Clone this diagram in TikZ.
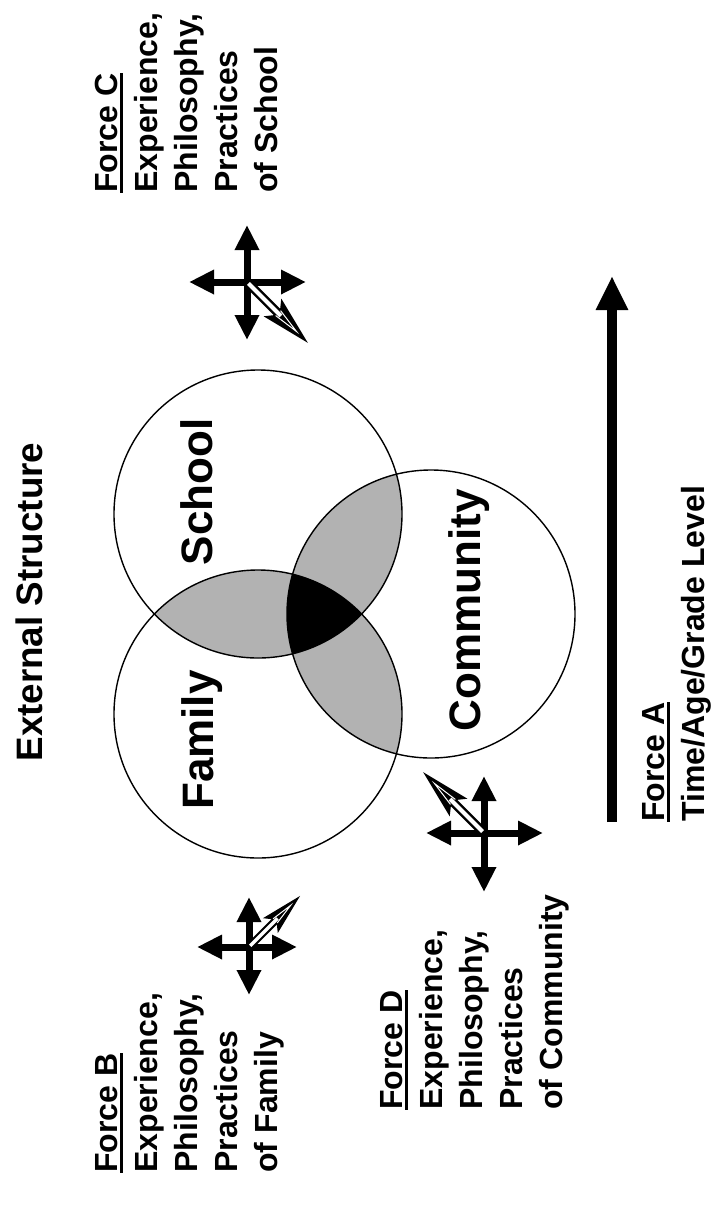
\documentclass[tikz,border=0pt]{standalone}
\usepackage{fontspec}
\setmainfont{Liberation Sans}
\usetikzlibrary{arrows.meta}
\newcommand\myul[1]{\setbox0\hbox{#1}\rlap{\rule[-2.75pt]{\wd0}{1.5pt}}\box0}
\tikzset{
  blocktxt/.style={font=\bfseries\fontsize{16}{20}\selectfont, rotate=90, align=left, inner sep=0pt, anchor=north west},
  circlbl/.style={font=\bfseries\fontsize{22}{26}\selectfont, rotate=90, inner sep=0pt, anchor=base},
  ring/.style={draw=black, line width=0.7pt},
  lens/.style={fill=black!30},
  arm/.style={line width=3.5pt, -{Triangle[length=12.5pt,width=11.5pt]}},
  timearrow/.style={line width=5pt, -{Triangle[length=17pt,width=15pt]}},
  hollow/.pic={
    \fill[black] (0,-4.5) -- (46,-4.5) -- (46,4.5) -- (0,4.5) -- cycle;
    \fill[black] (86,0) -- (36,-12.5) -- (46,0) -- (36,12.5) -- cycle;
    \fill[white] (2,-2) -- (48,-2) -- (48,2) -- (2,2) -- cycle;
    \draw[white, line width=0.5pt] (44,-3.5) -- (70,0) -- (44,3.5);
  }
}
\begin{document}
\begin{tikzpicture}[x=0.5pt,y=-0.5pt]
\useasboundingbox (0,0) rectangle (715,1206);
% circle centres
\coordinate (S) at (258,514);
\coordinate (F) at (258,714);
\coordinate (C) at (431,614);
% shading
\begin{scope}
  \clip (S) circle[radius=72pt];
  \fill[lens] (F) circle[radius=72pt];
  \fill[lens] (C) circle[radius=72pt];
\end{scope}
\begin{scope}
  \clip (F) circle[radius=72pt];
  \fill[lens] (C) circle[radius=72pt];
\end{scope}
\begin{scope}
  \clip (S) circle[radius=72pt];
  \clip (F) circle[radius=72pt];
  \fill[black] (C) circle[radius=72pt];
\end{scope}
\draw[ring] (S) circle[radius=72pt];
\draw[ring] (F) circle[radius=72pt];
\draw[ring] (C) circle[radius=72pt];
% labels
\node[font=\bfseries\fontsize{18.4}{22}\selectfont, rotate=90, inner sep=0pt, anchor=base] (title) at (42,602) {External Structure};
\node[circlbl] (school) at (212,492) {School};
\node[circlbl] (family) at (213,740) {Family};
\node[circlbl] (community) at (480,610) {Community};
% text blocks
\node[blocktxt] (fC) at (95,193) {\myul{Force C}\\Experience,\\Philosophy,\\Practices\\of School};
\node[blocktxt] (fB) at (95,1173) {\myul{Force B}\\Experience,\\Philosophy,\\Practices\\of Family};
\node[blocktxt] (fD) at (380,1110) {\myul{Force D}\\Experience,\\Philosophy,\\Practices\\of Community};
\node[blocktxt] (fA) at (642,822) {\myul{Force A}\\Time/Age/Grade Level};
% Force A arrow
\coordinate (aS) at (612,822);
\coordinate (aT) at (612,276);
\draw[timearrow] (aS) -- (aT);
% cross C
\coordinate (cC) at (247,282);
\coordinate (cCn) at (247,225);
\coordinate (cCs) at (247,340);
\coordinate (cCw) at (189,282);
\coordinate (cCe) at (306,282);
\draw[arm] (cC) -- (cCn);
\draw[arm] (cC) -- (cCs);
\draw[arm] (cC) -- (cCw);
\draw[arm] (cC) -- (cCe);
\pic[rotate=-45] at (cC) {hollow};
% cross D
\coordinate (cD) at (484,833);
\coordinate (cDn) at (484,776);
\coordinate (cDs) at (484,892);
\coordinate (cDw) at (426,833);
\coordinate (cDe) at (543,833);
\draw[arm] (cD) -- (cDn);
\draw[arm] (cD) -- (cDs);
\draw[arm] (cD) -- (cDw);
\draw[arm] (cD) -- (cDe);
\pic[rotate=135] at (cD) {hollow};
% cross B
\coordinate (cB) at (249,947);
\coordinate (cBn) at (249,897);
\coordinate (cBs) at (249,995);
\coordinate (cBw) at (197,947);
\coordinate (cBe) at (297,947);
\draw[arm] (cB) -- (cBn);
\draw[arm] (cB) -- (cBs);
\draw[arm] (cB) -- (cBw);
\draw[arm] (cB) -- (cBe);
\pic[rotate=45, scale=0.84] at (cB) {hollow};
\end{tikzpicture}
\end{document}
